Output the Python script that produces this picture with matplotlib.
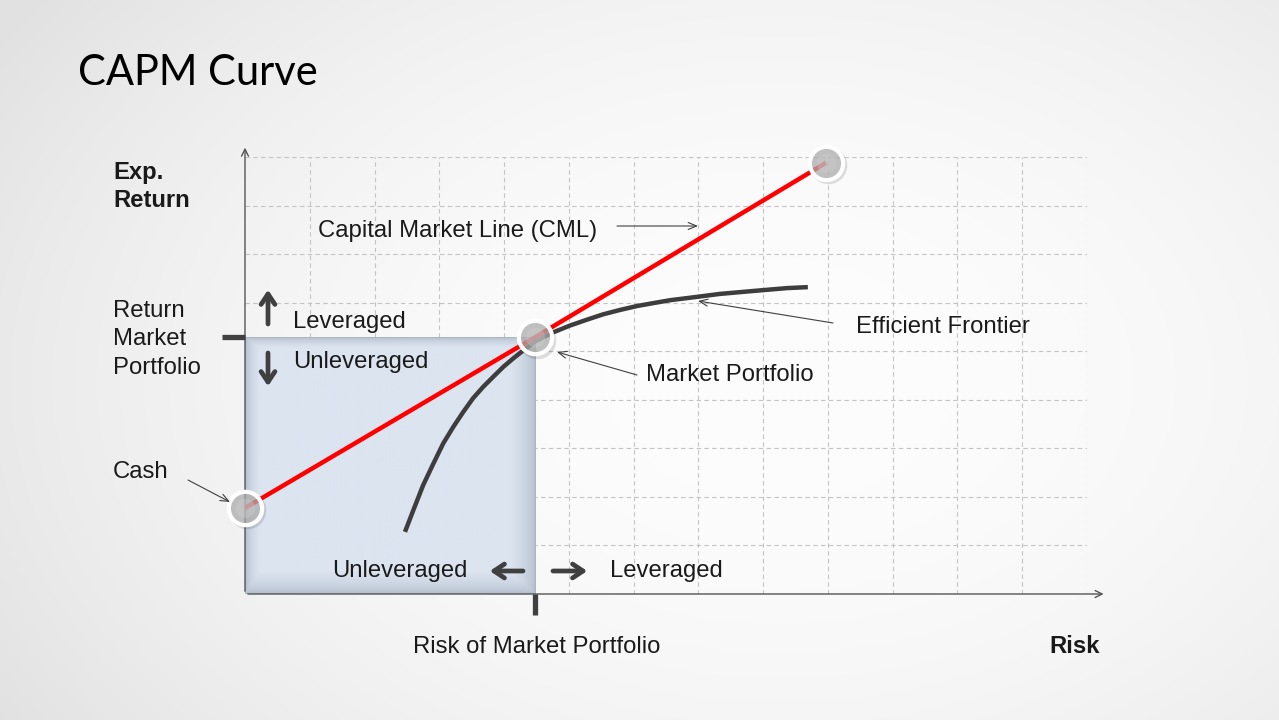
import numpy as np
import matplotlib
matplotlib.use("Agg")
import matplotlib.pyplot as plt
import matplotlib.transforms as mtransforms

# ---- data (grid units: 13 columns x 9 rows) ----
cml_x = [0.0, 4.48, 8.97]
cml_y = [1.77, 5.29, 8.88]
frontier_x = [2.47, 2.60, 2.75, 2.91, 3.06, 3.22, 3.37, 3.52, 3.68, 3.83, 3.99, 4.14, 4.30, 4.48,
              4.76, 5.02, 5.28, 5.53, 5.79, 6.05, 6.30, 6.56, 6.98, 7.33, 7.84, 8.37, 8.69]
frontier_y = [1.28, 1.73, 2.24, 2.69, 3.10, 3.45, 3.75, 4.03, 4.27, 4.47, 4.68, 4.85, 5.02, 5.20,
              5.39, 5.53, 5.65, 5.76, 5.85, 5.93, 5.99, 6.05, 6.12, 6.18, 6.24, 6.30, 6.32]
market_x, market_y = cml_x[1], cml_y[1]
n_cols, n_rows = 13, 9

W, H = 1279, 720
fig = plt.figure(figsize=(W / 100, H / 100), dpi=100)

# background radial gradient
bg = fig.add_axes([0, 0, 1, 1])
yy, xx = np.mgrid[0:H, 0:W]
r = np.sqrt(((xx - 780) / 900.0) ** 2 + ((yy - 380) / 620.0) ** 2)
shade = np.clip(253 - 26 * r ** 2, 225, 253) / 255.0
bg.imshow(np.dstack([shade] * 3), extent=[0, W, H, 0], aspect="auto")
bg.set_xlim(0, W)
bg.set_ylim(H, 0)
bg.axis("off")

# pixel transform for layout
pix = mtransforms.Affine2D().scale(1.0 / W, -1.0 / H).translate(0, 1) + fig.transFigure

# main axes: origin at (245, 594), grid to (1087, 157)
x0, y0, x1, y1 = 245, 594, 1087, 157
ax = fig.add_axes([x0 / W, (H - y0) / H, (x1 - x0) / W, (y0 - y1) / H])
ax.set_xlim(0, n_cols)
ax.set_ylim(0, n_rows)
ax.patch.set_alpha(0)
for s in ax.spines.values():
    s.set_visible(False)
ax.set_xticks([])
ax.set_yticks([])

grid_kw = dict(color="#c4c4c4", lw=0.8, ls=(0, (4, 3)), zorder=1)
for i in range(1, n_cols + 1):
    ax.plot([i, i], [0, n_rows], **grid_kw)
for j in range(1, n_rows + 1):
    ax.plot([0, n_cols], [j, j], **grid_kw)

# shaded region below market portfolio
bh, bw = 255, 293
gy, gx = np.mgrid[0:bh, 0:bw]
d = np.minimum.reduce([gx / 14.0, (bw - 1 - gx) / 26.0, gy / 10.0, (bh - 1 - gy) / 22.0])
d = np.sqrt(np.clip(d, 0, 1))
center = np.array([220, 228, 240]) / 255.0
edge = np.array([172, 183, 198]) / 255.0
box = edge + (center - edge) * d[..., None]
ax.imshow(box, extent=[0, market_x, 0, market_y], aspect="auto", zorder=2)

# axes arrows
ax.annotate("", xy=(13.3, 0), xytext=(0, 0), annotation_clip=False,
            arrowprops=dict(arrowstyle="->,head_length=0.5,head_width=0.25", color="#555555", lw=1.0))
ax.annotate("", xy=(0, 9.25), xytext=(0, 0), annotation_clip=False,
            arrowprops=dict(arrowstyle="->,head_length=0.5,head_width=0.25", color="#555555", lw=1.0))

# tick marks at market portfolio
ax.plot([-0.36, 0], [market_y, market_y], color="#404040", lw=3.8, solid_capstyle="butt", clip_on=False, zorder=3)
ax.plot([market_x, market_x], [0, -0.44], color="#404040", lw=3.8, solid_capstyle="butt", clip_on=False, zorder=3)

# curves
ax.plot(frontier_x, frontier_y, color="#3d3d3d", lw=3.2, solid_capstyle="butt", solid_joinstyle="round", zorder=4)
ax.plot(cml_x, cml_y, color="#ff0000", lw=3.2, solid_capstyle="butt", zorder=5)

# markers
for mx, my in zip(cml_x, cml_y):
    ax.plot(mx + 0.03, my - 0.05, "o", ms=27, mfc="#000000", mec="none", alpha=0.12, clip_on=False, zorder=6)
    ax.plot(mx, my, "o", ms=24, mfc="#b4b4b4", mec="none", alpha=0.7, clip_on=False, zorder=7)
    ax.plot(mx, my, "o", ms=14, mfc="#d0d0d0", mec="none", alpha=0.35, clip_on=False, zorder=7)
    ax.plot(mx, my, "o", ms=24, mfc="none", mec="white", mew=3.0, clip_on=False, zorder=8)

# thick direction arrows
thick = dict(arrowstyle="->,head_length=0.75,head_width=0.5", color="#404040", lw=3.4,
             shrinkA=0, shrinkB=2)
for tail, tip in [((268, 324), (268, 287)), ((268, 353), (268, 389)),
                  ((523, 571), (487, 571)), ((553, 571), (590, 571))]:
    fig.add_artist(matplotlib.text.Annotation("", xy=tip, xytext=tail, xycoords=pix, textcoords=pix,
                                              arrowprops=thick))

# thin pointer arrows
thin = dict(arrowstyle="->,head_length=0.6,head_width=0.25", color="#404040", lw=0.8,
            shrinkA=0, shrinkB=0)
for tail, tip in [((617, 226), (698, 226)), ((833, 323), (698, 301)),
                  ((637, 375), (557, 352)), ((188, 480), (230, 502))]:
    fig.add_artist(matplotlib.text.Annotation("", xy=tip, xytext=tail, xycoords=pix, textcoords=pix,
                                              arrowprops=thin))

# text
body = dict(family="Liberation Sans", fontsize=17.2, color="#1a1a1a", va="baseline", transform=pix)
fig.text(78, 85, "CAPM Curve", family="Lato", fontsize=30, color="#000000", va="baseline", transform=pix)
fig.text(113, 179, "Exp.", fontweight="bold", **body)
fig.text(113, 207, "Return", fontweight="bold", **body)
fig.text(113, 317, "Return", **body)
fig.text(113, 345, "Market", **body)
fig.text(113, 374, "Portfolio", **body)
fig.text(113, 478, "Cash", **body)
fig.text(293, 328, "Leveraged", **body)
fig.text(293, 368, "Unleveraged", **body)
fig.text(318, 237, "Capital Market Line (CML)", **body)
fig.text(856, 333, "Efficient Frontier", **body)
fig.text(646, 381, "Market Portfolio", **body)
fig.text(332, 577, "Unleveraged", **body)
fig.text(610, 577, "Leveraged", **body)
fig.text(413, 653, "Risk of Market Portfolio", **body)
fig.text(1100, 653, "Risk", ha="right", fontweight="bold", **body)

fig.savefig("out.png", dpi=100)
